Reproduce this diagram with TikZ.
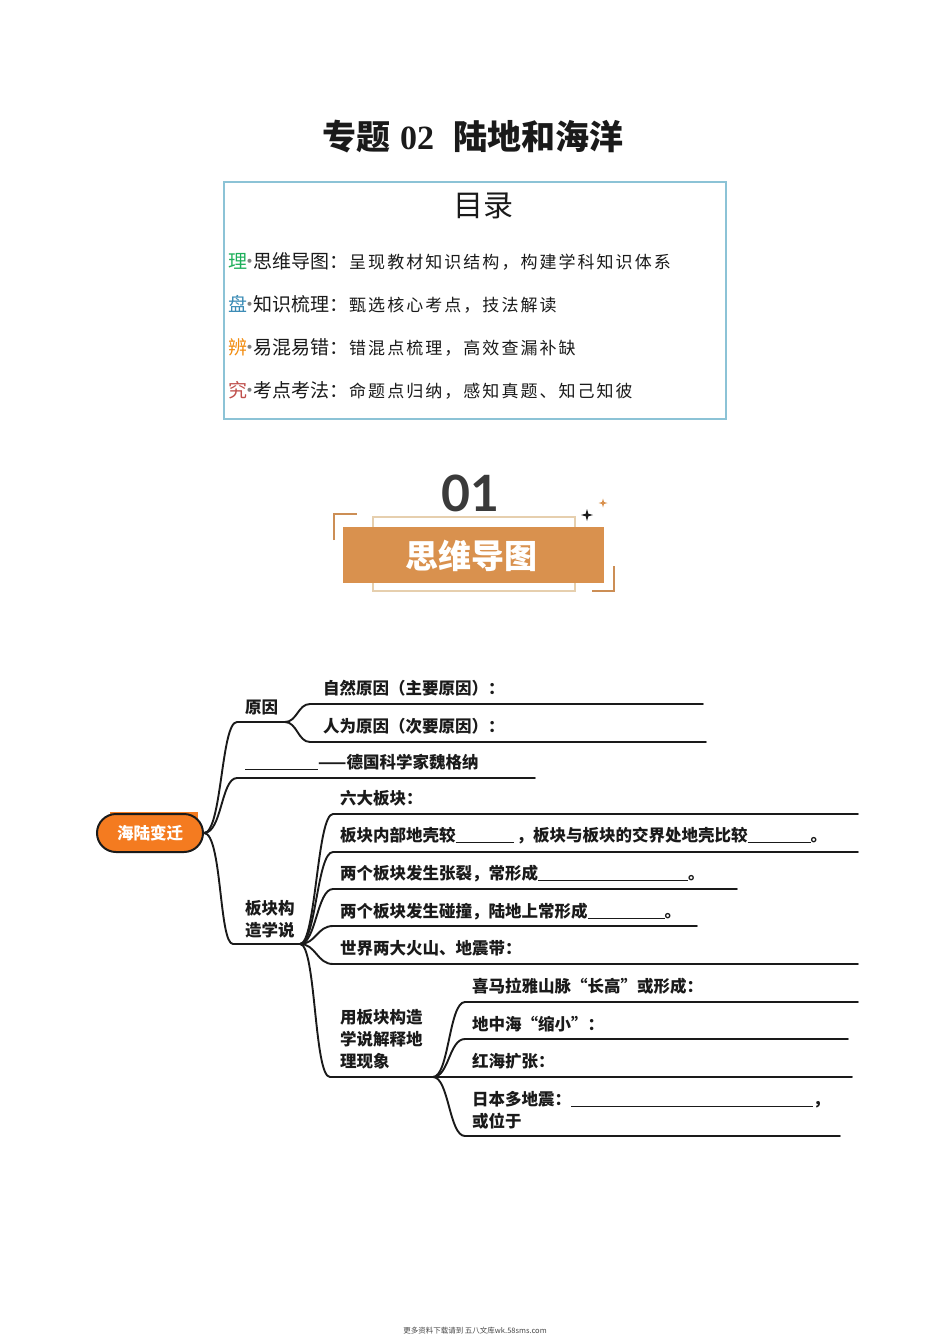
\documentclass[tikz,border=0pt]{standalone}
\usepackage{fontspec}
\setmainfont{Noto Sans CJK SC}
\newfontfamily\cjk{Noto Sans CJK SC}
\newfontfamily\cjkls[LetterSpace=12]{Noto Sans CJK SC}
\newfontfamily\serifb{Liberation Serif}
\newfontfamily\numf{Lato}
\newcommand{\myblank}[1]{\rule[-1.5pt]{#1pt}{0.9pt}}
\newcommand{\mydot}{\makebox[6pt][c]{\color{gray}·}}
\definecolor{tocblue}{HTML}{8CC3D6}
\definecolor{cgreen}{HTML}{1DAF5A}
\definecolor{cblue}{HTML}{3A8BB5}
\definecolor{corange}{HTML}{F28C0F}
\definecolor{cred}{HTML}{C0504D}
\definecolor{sand}{HTML}{D9914E}
\definecolor{sandlight}{HTML}{E6CFAE}
\definecolor{rootor}{HTML}{F47B20}
\definecolor{ink}{HTML}{1A1A1A}
\definecolor{numgray}{HTML}{3A3A3A}
\tikzset{
  mm/.style={font=\cjk\bfseries\fontsize{16.5}{22}\selectfont, text=ink, inner sep=0pt, anchor=base west},
  tochead/.style={font=\cjk\fontsize{19}{22}\selectfont, text=ink, inner sep=0pt, anchor=base west},
  tocdesc/.style={font=\cjkls\fontsize{17}{22}\selectfont, text=ink, inner sep=0pt, anchor=base west},
  branch/.style={line width=1.9pt, draw=ink, line cap=round, line join=round},
  bracket/.style={line width=2.5pt, draw=sand!85!gray},
}
\begin{document}
\begin{tikzpicture}[x=1pt,y=-1pt]
\useasboundingbox (0,0) rectangle (950,1343);
\fill[white] (0,0) rectangle (950,1343);

% ---------- title ----------
\node[inner sep=0pt, anchor=base west, text=ink] (title) at (322,150)
  {\fontsize{34}{40}\selectfont{\cjk\bfseries 专题}\hspace{10pt}{\serifb\bfseries 02}\hspace{19pt}{\cjk\bfseries 陆地和海洋}};

% ---------- table of contents ----------
\draw[tocblue, line width=1.6pt] (224,182) rectangle (726,419);
\node[inner sep=0pt, anchor=base, text=ink, font=\cjk\fontsize{30}{34}\selectfont] (mulu) at (483,216) {目录};

\node[tochead] (h1) at (228,268) {{\color{cgreen}理}\mydot 思维导图：};
\node[tocdesc] (d1) at (349,268) {呈现教材知识结构，构建学科知识体系};
\node[tochead] (h2) at (228,311) {{\color{cblue}盘}\mydot 知识梳理：};
\node[tocdesc] (d2) at (349,311) {甄选核心考点，技法解读};
\node[tochead] (h3) at (228,354) {{\color{corange}辨}\mydot 易混易错：};
\node[tocdesc] (d3) at (349,354) {错混点梳理，高效查漏补缺};
\node[tochead] (h4) at (228,397) {{\color{cred}究}\mydot 考点考法：};
\node[tocdesc] (d4) at (349,397) {命题点归纳，感知真题、知己知彼};

% ---------- section badge ----------
\draw[sandlight, line width=1.2pt] (373,517) rectangle (575,591);
\fill[sand] (343,527) rectangle (604,583);
\draw[bracket] (334,540) -- (334,514) -- (357,514);
\draw[bracket] (614,566) -- (614,591) -- (592,591);
\fill[ink, shift={(587,515)}] (0,-6) -- (1.3,-1.3) -- (6,0) -- (1.3,1.3) -- (0,6) -- (-1.3,1.3) -- (-6,0) -- (-1.3,-1.3) -- cycle;
\fill[sand, shift={(603,503)}] (0,-4.5) -- (1,-1) -- (4.5,0) -- (1,1) -- (0,4.5) -- (-1,1) -- (-4.5,0) -- (-1,-1) -- cycle;
\node[inner sep=0pt, anchor=base, text=numgray, font=\numf\bfseries\fontsize{50}{56}\selectfont] (num) at (470,511) {01};
\node[inner sep=0pt, anchor=base, text=white, font=\cjk\bfseries\fontsize{33}{38}\selectfont] (badge) at (471,568) {思维导图};

% ---------- mind map ----------
\fill[rootor] (110,812) rectangle (198,848);
\node[draw=ink, line width=2pt, fill=rootor, rounded corners=19pt, minimum width=106pt, minimum height=38pt, inner sep=0pt, text=white, font=\cjk\bfseries\fontsize{16.5}{20}\selectfont] (root) at (150,833) {海陆变迁};

\coordinate (yys) at (237,722); \coordinate (yyf) at (285,722);
\coordinate (zrs) at (310,704); \coordinate (zre) at (703,704);
\coordinate (rws) at (310,742); \coordinate (rwe) at (706,742);
\coordinate (dgs) at (237,778); \coordinate (dge) at (535,778);
\coordinate (bks) at (233,944); \coordinate (bkf) at (300,944);
\coordinate (l1s) at (333,814); \coordinate (l1e) at (858,814);
\coordinate (l2s) at (333,852); \coordinate (l2e) at (858,852);
\coordinate (l3s) at (333,889); \coordinate (l3e) at (737,889);
\coordinate (l4s) at (333,926); \coordinate (l4e) at (697,926);
\coordinate (l5s) at (333,964); \coordinate (l5e) at (858,964);
\coordinate (ybs) at (330,1077); \coordinate (ybf) at (433,1077);
\coordinate (m1s) at (465,1002); \coordinate (m1e) at (858,1002);
\coordinate (m2s) at (465,1039); \coordinate (m2e) at (848,1039);
\coordinate (m3e) at (852,1077);
\coordinate (m4s) at (465,1136); \coordinate (m4e) at (840,1136);

% root branches
\draw[branch] (root.east) .. controls +(18,0) and +(-16,0) .. (yys) -- (yyf);
\draw[branch] (root.east) .. controls +(18,0) and +(-16,0) .. (dgs) -- (dge);
\draw[branch] (root.east) .. controls +(18,0) and +(-14,0) .. (bks) -- (bkf);
% 原因 fork
\draw[branch] (yyf) .. controls +(12,0) and +(-12,0) .. (zrs) -- (zre);
\draw[branch] (yyf) .. controls +(12,0) and +(-12,0) .. (rws) -- (rwe);
% 板块构造学说 fork
\foreach \s/\e in {l1s/l1e,l2s/l2e,l3s/l3e,l4s/l4e,l5s/l5e}
  \draw[branch] (bkf) .. controls +(16,0) and +(-16,0) .. (\s) -- (\e);
\draw[branch] (bkf) .. controls +(16,0) and +(-16,0) .. (ybs) -- (ybf);
% 用板块构造学说 fork
\draw[branch] (ybf) .. controls +(16,0) and +(-16,0) .. (m1s) -- (m1e);
\draw[branch] (ybf) .. controls +(16,0) and +(-16,0) .. (m2s) -- (m2e);
\draw[branch] (ybf) -- (m3e);
\draw[branch] (ybf) .. controls +(16,0) and +(-16,0) .. (m4s) -- (m4e);

% texts
\node[mm] (tyy) at (245,713) {原因};
\node[mm] (tzr) at (323,694) {自然原因（主要原因）：};
\node[mm] (trw) at (323,732) {人为原因（次要原因）：};
\node[mm] (tdg) at (245,768) {\myblank{73}——德国科学家魏格纳};
\node[mm] (tbk1) at (245,914) {板块构};
\node[mm] (tbk2) at (245,936) {造学说};
\node[mm] (t1) at (340,804) {六大板块：};
\node[mm] (t2) at (340,841) {板块内部地壳较\myblank{58}\hspace{3pt}，板块与板块的交界处地壳比较\myblank{63}。};
\node[mm] (t3) at (340,879) {两个板块发生张裂，常形成\myblank{150}。};
\node[mm] (t4) at (340,917) {两个板块发生碰撞，陆地上常形成\myblank{77}。};
\node[mm] (t5) at (340,954) {世界两大火山、地震带：};
\node[mm] (tyb1) at (340,1023) {用板块构造};
\node[mm] (tyb2) at (340,1045) {学说解释地};
\node[mm] (tyb3) at (340,1067) {理现象};
\node[mm] (tm1) at (472,992) {喜马拉雅山脉“长高”或形成：};
\node[mm] (tm2) at (472,1030) {地中海“缩小”：};
\node[mm] (tm3) at (472,1067) {红海扩张：};
\node[mm] (tm4a) at (472,1105) {日本多地震：\myblank{242}，};
\node[mm] (tm4b) at (472,1127) {或位于};

% footer
\node[inner sep=0pt, anchor=base, text=ink!80, font=\cjk\fontsize{7.5}{9}\selectfont] (foot) at (475,1333) {更多资料下载请到 五八文库wk.58sms.com};
\end{tikzpicture}
\end{document}
